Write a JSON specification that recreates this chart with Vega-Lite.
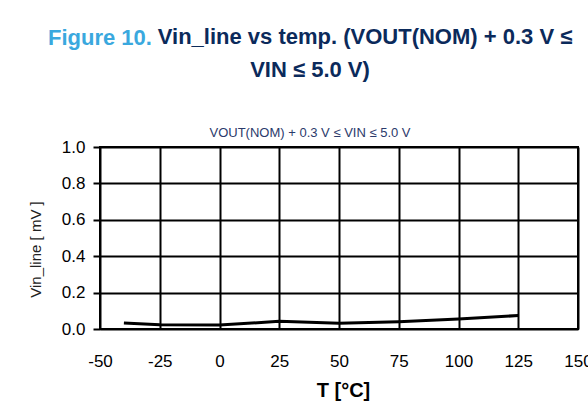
{
  "$schema": "https://vega.github.io/schema/vega-lite/v6.json",
  "width": 478,
  "height": 182,
  "autosize": {"type": "none"},
  "padding": {"left": 100, "top": 147, "right": 10, "bottom": 80},
  "background": "white",
  "title": {
    "text": ["\u200b\u00a0\u00a0\u00a0\u00a0\u00a0\u00a0\u00a0\u00a0\u00a0\u00a0\u00a0\u00a0\u00a0\u00a0\u00a0\u00a0\u00a0\u00a0Vin_line vs temp. (VOUT(NOM) + 0.3 V ≤", "VIN ≤ 5.0 V)"],
    "subtitle": "VOUT(NOM) + 0.3 V ≤ VIN ≤ 5.0 V",
    "font": "Liberation Sans",
    "fontSize": 22,
    "fontWeight": "bold",
    "color": "#0B2A5B",
    "lineHeight": 33,
    "subtitleFont": "Liberation Sans",
    "subtitleFontSize": 13,
    "subtitleColor": "#2B3A6B",
    "subtitlePadding": 45,
    "anchor": "middle",
    "frame": "group",
    "dx": -29,
    "offset": -115
  },
  "data": {
    "values": [
      {"T": -40, "V": 0.033},
      {"T": -25, "V": 0.023},
      {"T": 0, "V": 0.022},
      {"T": 25, "V": 0.042},
      {"T": 50, "V": 0.032},
      {"T": 75, "V": 0.04},
      {"T": 100, "V": 0.055},
      {"T": 125, "V": 0.074}
    ]
  },
  "config": {
    "view": {"stroke": "black", "strokeWidth": 2},
    "font": "Liberation Sans"
  },
  "resolve": {"axis": {"x": "independent"}},
  "layer": [
    {
      "mark": {"type": "line", "color": "black", "strokeWidth": 3},
      "encoding": {
        "x": {
          "field": "T",
          "type": "quantitative",
          "scale": {"domain": [-50, 150], "nice": false, "zero": false},
          "axis": {
            "values": [-50, -25, 0, 25, 50, 75, 100, 125, 150],
            "tickCount": 20,
            "labelExpr": "'' + datum.value",
            "labelOverlap": false,
            "grid": true,
            "gridColor": "black",
            "gridWidth": 2,
            "gridOpacity": 1,
            "domain": false,
            "ticks": false,
            "tickSize": 0,
            "labelFontSize": 17,
            "labelColor": "black",
            "labelBaseline": "alphabetic",
            "labelPadding": 37,
            "labelFlush": false,
            "title": "T [°C]",
            "titleFontSize": 20,
            "titleFontWeight": "bold",
            "titleColor": "black",
            "titleBaseline": "alphabetic",
            "titleX": 243,
            "titleY": 67.5
          }
        },
        "y": {
          "field": "V",
          "type": "quantitative",
          "scale": {"domain": [0, 1], "nice": false},
          "axis": {
            "values": [0, 0.2, 0.4, 0.6, 0.8, 1.0],
            "tickCount": 10,
            "format": ".1f",
            "labelOverlap": false,
            "grid": true,
            "gridColor": "black",
            "gridWidth": 2,
            "gridOpacity": 1,
            "domain": false,
            "ticks": true,
            "tickColor": "black",
            "tickWidth": 2,
            "tickSize": 7,
            "labelFontSize": 17,
            "labelColor": "black",
            "labelPadding": 8,
            "labelFlush": false,
            "title": "Vin_line [ mV ]",
            "titleFontSize": 15,
            "titleFontWeight": "normal",
            "titleColor": "#222222",
            "titleAngle": -90,
            "titleAlign": "center",
            "titleBaseline": "alphabetic",
            "titleX": -60,
            "titleY": 102
          }
        }
      }
    },
    {
      "mark": {"type": "line", "opacity": 0},
      "encoding": {
        "x": {
          "field": "T",
          "type": "quantitative",
          "axis": {
            "orient": "top",
            "labels": false,
            "ticks": false,
            "domain": false,
            "grid": false,
            "title": "Figure 10.",
            "titleColor": "#3AA8DE",
            "titleFontSize": 22,
            "titleFontWeight": "bold",
            "titleFont": "Liberation Sans",
            "titleAlign": "left",
            "titleBaseline": "alphabetic",
            "titleAngle": 0,
            "titleX": -52.5,
            "titleY": -103
          }
        },
        "y": {"field": "V", "type": "quantitative"}
      }
    }
  ]
}
